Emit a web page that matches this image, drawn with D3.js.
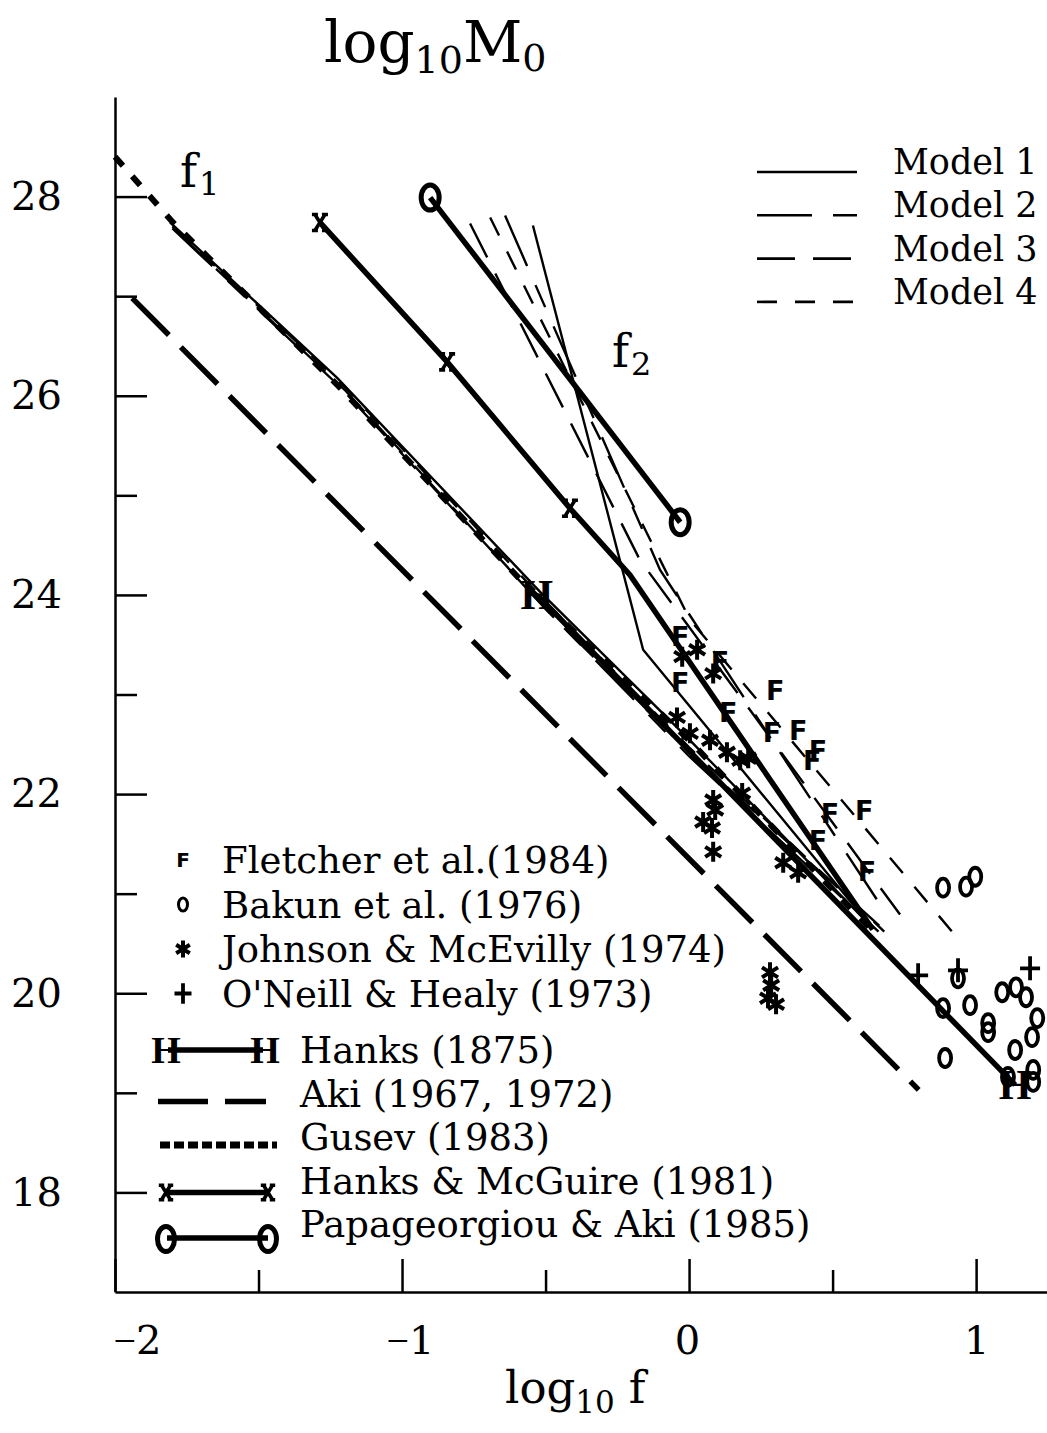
<!DOCTYPE html>
<html><head><meta charset="utf-8">
<script src="https://cdn.jsdelivr.net/npm/d3@7"></script>
<style>body{margin:0;background:#fff}svg{display:block}</style>
</head><body><svg id="c" width="1047" height="1433"></svg>
<script>
// ---------------- data ----------------
const xDomain = [-2, 1.247];
const yDomain = [17, 29];
const xTicksMajor = [-2, -1, 0, 1];
const xTicksMinor = [-1.5, -0.5, 0.5];
const yTicksMajor = [18, 20, 22, 24, 26, 28];
const yTicksMinor = [19, 21, 23, 25, 27];

const modelNames = ["Model 1", "Model 2", "Model 3", "Model 4"];
const model1F1 = [[-1.808,27.74],[-1.226,26.18],[-0.519,24.03],[0.0,22.55],[0.631,20.68]];
const model1F2 = [[-0.544,27.71],[-0.160,23.45],[0.631,20.68]];
const model2F1 = [[-1.80,27.68],[-1.22,26.10],[-0.50,23.86],[0.0,22.38],[0.66,20.62]];
const model2F2 = [[-0.641,27.81],[-0.101,24.25],[0.666,20.89]];
const model3F1 = [[-1.79,27.66],[-1.20,26.06],[-0.48,23.80],[0.0,22.42],[0.70,20.58]];
const model3F2 = [[-0.763,27.73],[-0.171,24.35],[0.735,20.79]];
const model4F1 = [[-1.80,27.70],[-1.21,26.12],[-0.49,23.90],[0.0,22.47],[0.68,20.62]];
const model4F2 = [[-0.693,27.79],[0.003,23.75],[0.916,20.62]];

const hanks = [[-0.530,24.00],[1.136,19.08]];
const aki = [[-1.94,26.98],[0.80,19.03]];
const gusev = [[-2.00,28.40],[-1.798,27.74],[-1.226,26.11],[-0.554,24.05],[0.0,22.54],[0.631,20.65]];
const hanksMcGuire = [[-1.286,27.74],[-0.843,26.34],[-0.415,24.87],[-0.206,24.20],[0.640,20.64]];
const hanksMcGuireMarks = [[-1.286,27.74],[-0.843,26.34],[-0.415,24.87]];
const papageorgiou = [[-0.902,27.99],[-0.031,24.73]];

const fletcher = [[-0.031,23.58],[-0.031,23.12],[0.108,23.33],[0.136,22.82],[0.300,23.04],[0.289,22.62],
  [0.380,22.64],[0.449,22.44],[0.429,22.34],[0.491,21.81],[0.610,21.84],[0.449,21.54],[0.620,21.22]];
const bakun = [[0.885,21.06],[0.965,21.07],[0.997,21.17],[0.937,20.15],[0.885,19.85],[0.979,19.88],
  [1.042,19.70],[1.042,19.61],[1.091,20.01],[1.139,20.06],[1.174,19.96],[1.213,19.75],[1.195,19.56],
  [1.136,19.43],[0.892,19.35],[1.111,19.16],[1.199,19.23],[1.199,19.11]];
const johnson = [[-0.024,23.38],[0.028,23.45],[0.084,23.21],[-0.042,22.77],[0.003,22.61],[0.073,22.54],
  [0.132,22.42],[0.178,22.34],[0.206,22.36],[0.185,22.01],[0.084,21.94],[0.091,21.84],[0.049,21.72],
  [0.080,21.66],[0.084,21.42],[0.328,21.31],[0.380,21.21],[0.282,20.21],[0.286,20.08],[0.275,19.95],[0.303,19.89]];
const oneill = [[0.798,20.18],[0.937,20.23],[1.188,20.25]];

const pointLegend = ["Fletcher et al.(1984)", "Bakun et al. (1976)", "Johnson & McEvilly (1974)", "O'Neill & Healy (1973)"];
const lineLegend = ["Hanks (1875)", "Aki (1967, 1972)", "Gusev (1983)", "Hanks & McGuire (1981)", "Papageorgiou & Aki (1985)"];

// ---------------- drawing ----------------
const svg = d3.select("#c");
const serif = "'DejaVu Serif', serif";
const x = d3.scaleLinear().domain(xDomain).range([115, 1047]);
const y = d3.scaleLinear().domain(yDomain).range([1292, 97]);
const line = d3.line().x(d => x(d[0])).y(d => y(d[1]));

function styleAxis(g){
  g.attr("font-family", null).attr("font-size", null);
  g.selectAll(".domain").attr("stroke", "#000").attr("stroke-width", 2.5);
  g.selectAll(".tick line").attr("stroke", "#000").attr("stroke-width", 2.5);
  g.selectAll(".tick text").attr("font-family", serif).attr("font-size", 40).attr("fill", "#000");
}
const gy = svg.append("g").attr("transform", "translate(115,0)")
  .call(d3.axisLeft(y).tickValues(yTicksMajor).tickSize(-32).tickSizeOuter(0).tickPadding(53).tickFormat(d => String(d)));
styleAxis(gy);
const gy2 = svg.append("g").attr("transform", "translate(115,0)")
  .call(d3.axisLeft(y).tickValues(yTicksMinor).tickSize(-22).tickSizeOuter(0).tickFormat(""));
gy2.select(".domain").remove(); styleAxis(gy2);

const gx = svg.append("g").attr("transform", "translate(0,1292)")
  .call(d3.axisBottom(x).tickValues(xTicksMajor).tickSize(-33).tickSizeOuter(0).tickPadding(34).tickFormat(d => String(d)));
styleAxis(gx);
gx.selectAll(".tick text").each(function(d){
  const t = d3.select(this);
  t.text(null);
  if (d < 0) t.append("tspan").attr("font-family", "'Liberation Serif', serif").text("\u2212");
  t.append("tspan").text(Math.abs(d));
  t.attr("dx", d === -2 ? 22 : d < 0 ? 8 : (d === 0 ? -2 : 0));
});
const gx2 = svg.append("g").attr("transform", "translate(0,1292)")
  .call(d3.axisBottom(x).tickValues(xTicksMinor).tickSize(-22).tickSizeOuter(0).tickFormat(""));
gx2.select(".domain").remove(); styleAxis(gx2);

// title and axis label
const title = svg.append("text").attr("x", 324).attr("y", 62).attr("font-family", serif).attr("font-size", 58);
title.append("tspan").text("log");
title.append("tspan").attr("font-size", 38).attr("dy", 11).text("10");
title.append("tspan").attr("dy", -11).text("M");
title.append("tspan").attr("font-size", 38).attr("dy", 9).text("0");

const xl = svg.append("text").attr("x", 505).attr("y", 1403).attr("font-family", serif).attr("font-size", 45);
xl.append("tspan").text("log");
xl.append("tspan").attr("font-size", 31).attr("dy", 10).text("10");
xl.append("tspan").attr("dy", -10).attr("dx", 14).text("f");

function fLabel(px, py, sub){
  const t = svg.append("text").attr("x", px).attr("y", py).attr("font-family", serif).attr("font-size", 46);
  t.append("tspan").text("f");
  t.append("tspan").attr("font-size", 32).attr("dy", 8).attr("dx", 2).text(sub);
}
fLabel(180, 187, "1");
fLabel(612, 367, "2");

// model lines
const modelDash = [null, "55,21,24,21", "38,18", "20,18"];
const modelLines = [[model1F1, model1F2], [model2F1, model2F2], [model3F1, model3F2], [model4F1, model4F2]];
modelLines.forEach((pair, i) => {
  pair.forEach(pts => {
    svg.append("path").attr("d", line(pts)).attr("fill", "none").attr("stroke", "#000")
      .attr("stroke-width", 2.4).attr("stroke-dasharray", modelDash[i]);
  });
});

// reference lines
svg.append("path").attr("d", line(aki)).attr("fill", "none").attr("stroke", "#000")
  .attr("stroke-width", 5.5).attr("stroke-dasharray", "52,17");
svg.append("path").attr("d", line(gusev)).attr("fill", "none").attr("stroke", "#000")
  .attr("stroke-width", 6).attr("stroke-dasharray", "12,14");
svg.append("path").attr("d", line(hanks)).attr("fill", "none").attr("stroke", "#000").attr("stroke-width", 5.5);
svg.append("path").attr("d", line(hanksMcGuire)).attr("fill", "none").attr("stroke", "#000").attr("stroke-width", 5.5);
svg.append("path").attr("d", line(papageorgiou)).attr("fill", "none").attr("stroke", "#000").attr("stroke-width", 5.5);

// markers
function hMark(px, py, size){
  svg.append("text").attr("x", px).attr("y", py + size * 0.33).attr("text-anchor", "middle")
    .attr("font-family", "'Liberation Serif', serif").attr("font-weight", "bold").attr("font-size", size).text("H");
}
function xMark(px, py, s){
  svg.append("path").attr("transform", `translate(${px},${py}) scale(${s})`)
    .attr("d", "M-5,-8L5,8M-5,8L5,-8M-8,-8H-2M2,-8H8M-8,8H-2M2,8H8")
    .attr("stroke", "#000").attr("stroke-width", 3.6 / s).attr("fill", "none");
}
function oMark(px, py, rx, ry, sw){
  svg.append("ellipse").attr("cx", px).attr("cy", py).attr("rx", rx).attr("ry", ry)
    .attr("fill", "none").attr("stroke", "#000").attr("stroke-width", sw);
}
function fMark(px, py, size){
  svg.append("text").attr("x", px).attr("y", py + size * 0.36).attr("text-anchor", "middle")
    .attr("font-family", "'DejaVu Sans', sans-serif").attr("font-weight", "bold").attr("font-size", size).text("F");
}
function starMark(px, py, s){
  svg.append("path").attr("transform", `translate(${px},${py}) scale(${s})`)
    .attr("d", "M0,-10L0,10M-8,-5L8,5M-8,5L8,-5")
    .attr("stroke", "#000").attr("stroke-width", 4 / s).attr("fill", "none");
}
function plusMark(px, py, s){
  svg.append("path").attr("transform", `translate(${px},${py}) scale(${s})`)
    .attr("d", "M-10,0H10M0,-12V12").attr("stroke", "#000").attr("stroke-width", 3.8 / s).attr("fill", "none");
}

hanks.forEach(d => hMark(x(d[0]), y(d[1]), 42));
hanksMcGuireMarks.forEach(d => xMark(x(d[0]), y(d[1]), 1));
papageorgiou.forEach(d => oMark(x(d[0]), y(d[1]), 9, 12.5, 5));

fletcher.forEach(d => fMark(x(d[0]), y(d[1]), 27));
bakun.forEach(d => oMark(x(d[0]), y(d[1]), 6, 9, 3.8));
johnson.forEach(d => starMark(x(d[0]), y(d[1]), 1));
oneill.forEach(d => plusMark(x(d[0]), y(d[1]), 1));

// model legend
const legendFont = 37;
modelNames.forEach((name, i) => {
  const ly = 172 + i * 43.3;
  svg.append("line").attr("x1", 757).attr("x2", 857).attr("y1", ly).attr("y2", ly)
    .attr("stroke", "#000").attr("stroke-width", 2.6).attr("stroke-dasharray", modelDash[i]);
  svg.append("text").attr("x", 893).attr("y", ly + 2).attr("font-family", serif).attr("font-size", 35)
    .text(name);
});

// point legend
const pointSyms = [
  (px, py) => fMark(px, py, 20),
  (px, py) => oMark(px, py, 4.5, 6.5, 3),
  (px, py) => starMark(px, py, 0.85),
  (px, py) => plusMark(px, py, 0.85)
];
pointLegend.forEach((name, i) => {
  const ly = 860 + i * 44.5;
  pointSyms[i](183, ly);
  svg.append("text").attr("x", 222).attr("y", ly + 13).attr("font-family", serif).attr("font-size", legendFont).text(name);
});

// line legend
const lineSyms = [
  ly => { svg.append("line").attr("x1", 168).attr("x2", 263).attr("y1", ly).attr("y2", ly).attr("stroke", "#000").attr("stroke-width", 5.5);
          hMark(166, ly, 38); hMark(265, ly, 38); },
  ly => { svg.append("line").attr("x1", 158).attr("x2", 266).attr("y1", ly + 8).attr("y2", ly + 8).attr("stroke", "#000")
          .attr("stroke-width", 5.5).attr("stroke-dasharray", "50,17"); },
  ly => { svg.append("line").attr("x1", 160).attr("x2", 277).attr("y1", ly + 8).attr("y2", ly + 8).attr("stroke", "#000")
          .attr("stroke-width", 7).attr("stroke-dasharray", "10,4"); },
  ly => { svg.append("line").attr("x1", 167).attr("x2", 267).attr("y1", ly + 12).attr("y2", ly + 12).attr("stroke", "#000").attr("stroke-width", 5.5);
          xMark(166, ly + 12, 0.9); xMark(268, ly + 12, 0.9); },
  ly => { svg.append("line").attr("x1", 167).attr("x2", 268).attr("y1", ly + 14).attr("y2", ly + 14).attr("stroke", "#000").attr("stroke-width", 5.5);
          oMark(166, ly + 15, 8.5, 12.5, 5); oMark(268, ly + 15, 8.5, 12.5, 5); }
];
lineLegend.forEach((name, i) => {
  const ly = 1050 + i * 43.5;
  lineSyms[i](ly);
  svg.append("text").attr("x", 300).attr("y", ly + 13).attr("font-family", serif).attr("font-size", legendFont).text(name);
});
</script>
</body></html>
